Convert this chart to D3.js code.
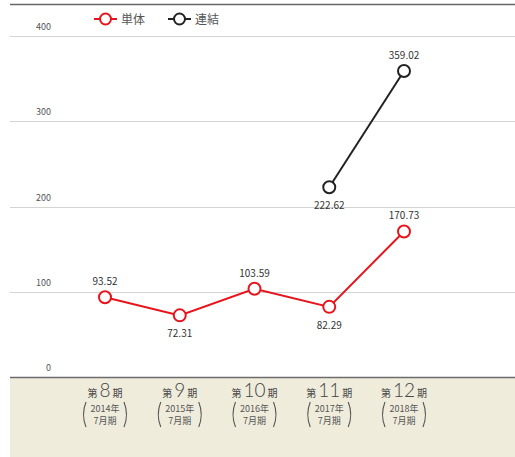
<!DOCTYPE html>
<html>
<head>
<meta charset="utf-8">
<script src="https://cdn.jsdelivr.net/npm/d3@7"></script>
<style>
  html, body { margin: 0; padding: 0; background: #fff; }
  svg { display: block; font-family: "Noto Sans CJK JP", "Noto Sans", sans-serif; }
</style>
</head>
<body>
<svg id="chart" width="515" height="457"></svg>
<script>
// Fiscal periods
const periods = ["8", "9", "10", "11", "12"];
const periodYears = ["2014", "2015", "2016", "2017", "2018"];
// Non-consolidated (単体) values
const standalone = [93.52, 72.31, 103.59, 82.29, 170.73];
// Consolidated (連結) values, only reported from period 11
const consolidated = [null, null, null, 222.62, 359.02];
// Label placement per point: above or below the marker
const standalonePos = ["above", "below", "above", "below", "above"];
const consolidatedPos = [null, null, null, "below", "above"];
const yTicks = [0, 100, 200, 300, 400];

const svg = d3.select("#chart");
const W = 515, H = 457;
const left = 10;

const x = d3.scalePoint().domain(periods).range([105, 404]);
const y = d3.scaleLinear().domain([0, 400]).range([377, 36]);

// Category band background
svg.append("rect")
  .attr("x", left).attr("y", y(0))
  .attr("width", W - left).attr("height", H - y(0))
  .attr("fill", "#efecdc");

// Top rule
svg.append("line")
  .attr("x1", left).attr("x2", W).attr("y1", 4.5).attr("y2", 4.5)
  .attr("stroke", "#666").attr("stroke-width", 1.5);

// Gridlines with labels sitting above each line
const grid = svg.append("g");
grid.selectAll("line").data(yTicks.filter(d => d > 0)).join("line")
  .attr("x1", left).attr("x2", W)
  .attr("y1", d => Math.round(y(d)) + 0.5).attr("y2", d => Math.round(y(d)) + 0.5)
  .attr("stroke", "#d4d4d4").attr("stroke-width", 1);
grid.selectAll("text").data(yTicks).join("text")
  .attr("x", 51).attr("y", d => y(d) - 6)
  .attr("text-anchor", "end")
  .attr("font-size", 9).attr("fill", "#555")
  .text(d => d);

// Baseline
svg.append("line")
  .attr("x1", left).attr("x2", W).attr("y1", y(0) + 0.5).attr("y2", y(0) + 0.5)
  .attr("stroke", "#6b6b6b").attr("stroke-width", 1.5);

// Category labels
const cat = svg.append("g").selectAll("g").data(periods).join("g")
  .attr("transform", d => `translate(${x(d)},0)`);
cat.append("text")
  .attr("y", 397).attr("text-anchor", "middle").attr("fill", "#444")
  .each(function(d) {
    const t = d3.select(this);
    t.append("tspan").attr("font-size", 10).text("第");
    t.append("tspan").attr("font-size", 19).attr("dx", 2)
      .attr("font-family", "Lato, 'Noto Sans', sans-serif").attr("font-weight", 300)
      .text(d);
    t.append("tspan").attr("font-size", 10).attr("dx", 2).text("期");
  });
// Tall thin parentheses drawn as arcs around the two-line period note
const paren = (side) => {
  const sx = side * 19, top = 402, bot = 427;
  return `M${sx},${top} Q${sx + side * 5},${(top + bot) / 2} ${sx},${bot}`;
};
cat.append("path").attr("d", paren(-1))
  .attr("fill", "none").attr("stroke", "#555").attr("stroke-width", 1.1);
cat.append("path").attr("d", paren(1))
  .attr("fill", "none").attr("stroke", "#555").attr("stroke-width", 1.1);
cat.append("text")
  .attr("y", 412).attr("text-anchor", "middle")
  .attr("font-size", 9).attr("fill", "#555")
  .text((d, i) => periodYears[i] + "年");
cat.append("text")
  .attr("y", 423.5).attr("text-anchor", "middle")
  .attr("font-size", 9).attr("fill", "#555")
  .text("7月期");

// Series
function drawSeries(values, positions, color) {
  const pts = values.map((v, i) => ({ p: periods[i], v, pos: positions[i] }))
    .filter(d => d.v !== null);
  const line = d3.line().x(d => x(d.p)).y(d => y(d.v));
  const g = svg.append("g");
  g.append("path").datum(pts)
    .attr("d", line).attr("fill", "none")
    .attr("stroke", color).attr("stroke-width", 2);
  g.selectAll("circle").data(pts).join("circle")
    .attr("cx", d => x(d.p)).attr("cy", d => y(d.v)).attr("r", 6)
    .attr("fill", "#fff").attr("stroke", color).attr("stroke-width", 2);
  g.selectAll("text").data(pts).join("text")
    .attr("x", d => x(d.p))
    .attr("y", d => d.pos === "above" ? y(d.v) - 12 : y(d.v) + 22)
    .attr("text-anchor", "middle").attr("font-size", 10).attr("fill", "#333")
    .text(d => d.v.toFixed(2));
}
drawSeries(standalone, standalonePos, "#e8141c");
drawSeries(consolidated, consolidatedPos, "#222");

// Legend
const legendItems = [
  { name: "単体", color: "#e8141c", x: 94 },
  { name: "連結", color: "#222", x: 168 }
];
const lg = svg.append("g").selectAll("g").data(legendItems).join("g")
  .attr("transform", d => `translate(${d.x},19)`);
lg.append("line").attr("x1", 0).attr("x2", 23)
  .attr("stroke", d => d.color).attr("stroke-width", 2);
lg.append("circle").attr("cx", 11.5).attr("r", 5.5)
  .attr("fill", "#fff").attr("stroke", d => d.color).attr("stroke-width", 2);
lg.append("text").attr("x", 27).attr("y", 4.5)
  .attr("font-size", 12).attr("fill", "#555")
  .text(d => d.name);
</script>
</body>
</html>
